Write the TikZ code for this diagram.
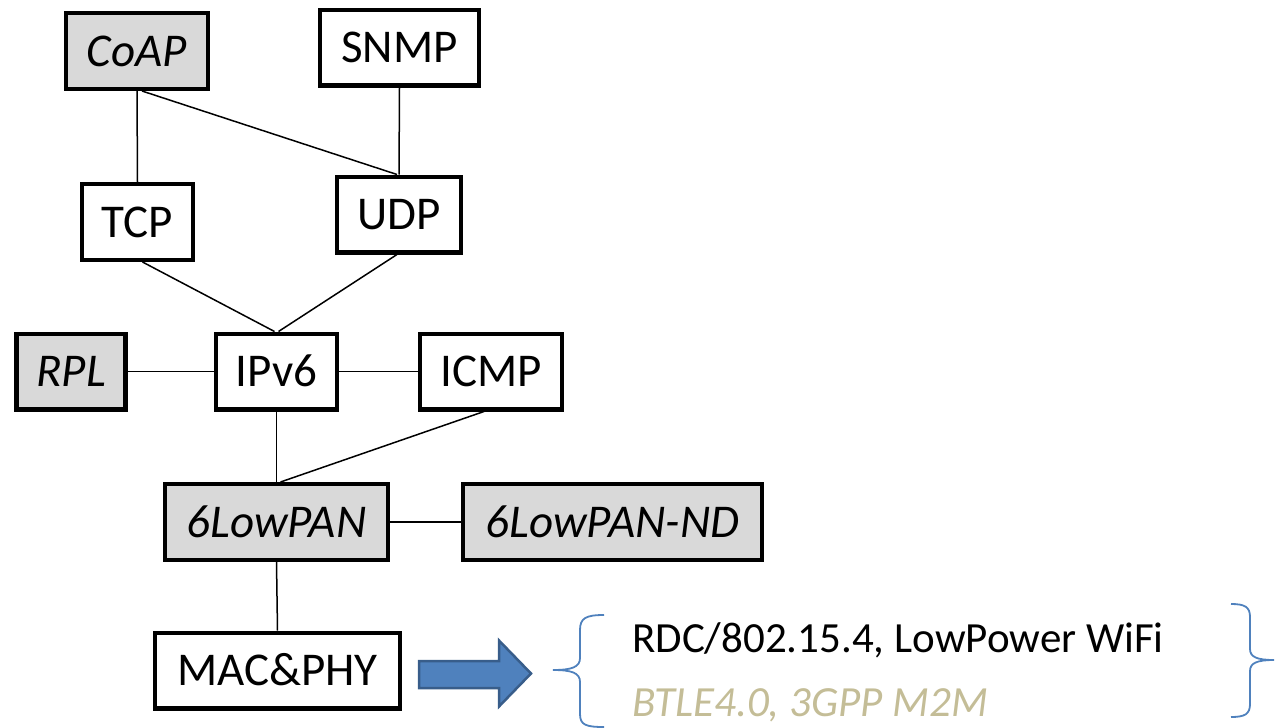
\documentclass[tikz,border=0pt]{standalone}
\usepackage{fontspec}
\setmainfont{Carlito}
\usetikzlibrary{calc}
\definecolor{boxgray}{HTML}{D9D9D9}
\definecolor{arrowblue}{HTML}{4F81BD}
\definecolor{arrowedge}{HTML}{385D8A}
\definecolor{bracecol}{HTML}{4F81BD}
\definecolor{softtan}{HTML}{C4BD97}
\begin{document}
\begin{tikzpicture}[x=1pt,y=-1pt,
 layer/.style={draw=black, line width=4.3pt, fill=white, inner sep=0pt,
   font=\fontsize{47}{56}\selectfont, text height=30pt, text depth=0pt, minimum height=75.7pt},
 grayed/.style={layer, fill=boxgray, font=\fontsize{47}{56}\selectfont\itshape},
 link/.style={line width=1.5pt},
 bracestyle/.style={draw=bracecol, line width=1.8pt}]
\useasboundingbox (0,0) rectangle (1280,728);

\node[grayed, minimum width=141.7pt] (coap) at (137,51) {CoAP};
\node[layer, minimum width=158.7pt] (snmp) at (399.5,47.5) {SNMP};
\node[layer, minimum width=111pt] (tcp) at (137.5,222) {TCP};
\node[layer, minimum width=124pt] (udp) at (399,214.5) {UDP};
\node[grayed, minimum width=109pt] (rpl) at (71,371.5) {RPL};
\node[layer, minimum width=121pt] (ipv6) at (276.5,371.5) {IPv6};
\node[layer, minimum width=142pt] (icmp) at (491,371.5) {ICMP};
\node[grayed, minimum width=223pt] (lowpan) at (276.5,522) {6LowPAN};
\node[grayed, minimum width=299pt] (lowpannd) at (612.5,522) {6LowPAN-ND};
\node[layer, minimum width=245pt] (mac) at (277.5,670.5) {MAC\&PHY};

\draw[link] (coap.south) -- (tcp.north);
\draw[link] ([xshift=5pt]coap.south) -- ([xshift=-2pt]udp.north);
\draw[link] (snmp.south) -- (udp.north);
\draw[link] ([xshift=5pt]tcp.south) -- ([xshift=-2pt]ipv6.north);
\draw[link] ([xshift=-2pt]udp.south) -- ([xshift=2pt]ipv6.north);
\draw[link] (rpl.east) -- (ipv6.west);
\draw[link] (ipv6.east) -- (icmp.west);
\draw[link] (ipv6.south) -- (lowpan.north);
\draw[link] ([xshift=-7pt]icmp.south) -- ([xshift=4pt]lowpan.north);
\draw[link] (lowpan.east) -- (lowpannd.west);
\draw[link] (lowpan.south) -- (mac.north);

% block arrow
\draw[fill=arrowblue, draw=arrowedge, line width=2.5pt, line join=miter]
  (419,661) -- (499,661) -- (499,640.5) -- (531,673.5) -- (499,706.5) -- (499,688) -- (419,688) -- cycle;

% braces
\draw[bracestyle] (604,615) .. controls (586,615) and (580,618) .. (580,630) -- (580,658)
  .. controls (580,667) and (572,670) .. (553,670)
  .. controls (572,670) and (580,673) .. (580,682) -- (580,714)
  .. controls (580,725) and (586,727) .. (604,727);
\draw[bracestyle] (1231,604) .. controls (1245,604) and (1250,607) .. (1250,617) -- (1250,649)
  .. controls (1250,657) and (1257,660) .. (1274,660)
  .. controls (1257,660) and (1250,663) .. (1250,671) -- (1250,704)
  .. controls (1250,714) and (1245,717) .. (1231,717);

\node[anchor=base west, inner sep=0pt, font=\fontsize{43}{52}\selectfont] (t1) at (632,652) {RDC/802.15.4, LowPower WiFi};
\node[anchor=base west, inner sep=0pt, font=\fontsize{43}{52}\selectfont\itshape, text=softtan] (t2) at (632,716) {BTLE4.0, 3GPP M2M};
\end{tikzpicture}
\end{document}
